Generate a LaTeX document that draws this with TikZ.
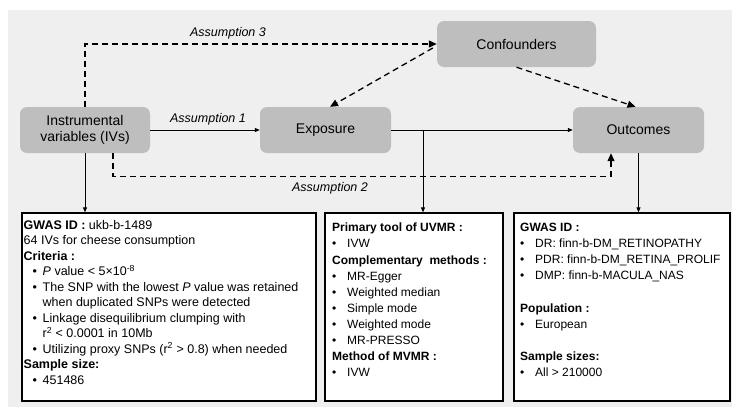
\documentclass[tikz,border=0pt]{standalone}
\usepackage{fontspec}
\setmainfont{Liberation Sans}
\usetikzlibrary{arrows.meta}
\definecolor{nodegray}{HTML}{BEBEBE}
\definecolor{bggray}{HTML}{EFEFEF}
\newcommand{\bulA}{\hspace*{9pt}\makebox[10pt][l]{•}}
\newcommand{\contA}{\hspace*{19pt}}
\newcommand{\bulB}{\makebox[15pt][l]{•}}
\begin{document}
\begin{tikzpicture}[x=1pt,y=-1pt,
  gbox/.style={draw=none, fill=nodegray, rounded corners=7pt, minimum height=46pt, align=center, font=\fontsize{14}{16}\selectfont, inner sep=0pt},
  ibox/.style={draw=black, line width=1.3pt, fill=white, inner sep=0pt},
  solidarr/.style={line width=0.8pt, -{Triangle[length=5pt,width=4pt]}},
  dasharr/.style={line width=1.3pt, dash pattern=on 6pt off 4pt, -{Triangle[length=8pt,width=7pt]}},
  lab/.style={font=\fontsize{12.5}{14}\selectfont\itshape, inner sep=0pt},
  txtA/.style={anchor=north west, inner sep=0pt, align=left, font=\fontsize{12.5}{15.5}\selectfont},
  txtB/.style={anchor=north west, inner sep=0pt, align=left, font=\fontsize{12}{16.1}\selectfont}
]
\useasboundingbox (0,0) rectangle (732,407);
\fill[bggray] (8,10) rectangle (732,407);

\node[gbox, minimum width=130pt] (iv) at (85,130) {Instrumental\\variables (IVs)};
\node[gbox, minimum width=131pt] (exp) at (325.5,130) {Exposure};
\node[gbox, minimum width=159pt] (conf) at (516.5,44) {Confounders};
\node[gbox, minimum width=131pt] (out) at (638.5,130) {Outcomes};

\node[ibox, minimum width=294pt, minimum height=188pt] (b1) at (169,307) {};
\node[ibox, minimum width=178pt, minimum height=188pt] (b2) at (414,307) {};
\node[ibox, minimum width=216pt, minimum height=188pt] (b3) at (622,307) {};

\node[txtA] (t1) at (23.5,220) {\textbf{GWAS ID :} ukb-b-1489\\
64 IVs for cheese consumption\\
\textbf{Criteria :}\\
\bulA\textit{P} value < 5×10\textsuperscript{-8}\\
\bulA The SNP with the lowest \textit{P} value was retained\\
\contA when duplicated SNPs were detected\\
\bulA Linkage disequilibrium clumping with\\
\contA r\textsuperscript{2} < 0.0001 in 10Mb\\
\bulA Utilizing proxy SNPs (r\textsuperscript{2} > 0.8) when needed\\
\textbf{Sample size:}\\
\bulA 451486};

\node[txtB] (t2) at (332,223) {\textbf{Primary tool of UVMR :}\\
\bulB IVW\\
\textbf{Complementary\ \ methods :}\\
\bulB MR-Egger\\
\bulB Weighted median\\
\bulB Simple mode\\
\bulB Weighted mode\\
\bulB MR-PRESSO\\
\textbf{Method of MVMR :}\\
\bulB IVW};

\node[txtB] (t3) at (520,223) {\textbf{GWAS ID :}\\
\bulB DR: finn-b-DM\_RETINOPATHY\\
\bulB PDR: finn-b-DM\_RETINA\_PROLIF\\
\bulB DMP: finn-b-MACULA\_NAS\\
\mbox{}\\
\textbf{Population :}\\
\bulB European\\
\mbox{}\\
\textbf{Sample sizes:}\\
\bulB All > 210000};

\node[lab] (a1) at (208,119) {Assumption 1};
\node[lab] (a3) at (228,33) {Assumption 3};
\node[lab] (a2) at (330,188) {Assumption 2};

\coordinate (j) at (423,130);
\draw[solidarr] (iv.east) -- (exp.west);
\draw[solidarr] (exp.east) -- (out.west);
\draw[solidarr] (iv.south) -- (iv.south |- b1.north);
\draw[solidarr] (j) -- (j |- b2.north);
\draw[solidarr] (out.south) -- (out.south |- b3.north);

\draw[dasharr] (iv.north) -- (iv.north |- conf.west) -- (conf.west);
\draw[dasharr] ([shift={(-4,4)}]conf.west) -- ([xshift=4.5pt]exp.north);
\draw[dasharr] (conf.south) -- ([xshift=-3pt]out.north);
\draw[dasharr] ([xshift=28pt]iv.south) -- ++(0,23) -| ([xshift=-27.5pt]out.south);
\end{tikzpicture}
\end{document}
